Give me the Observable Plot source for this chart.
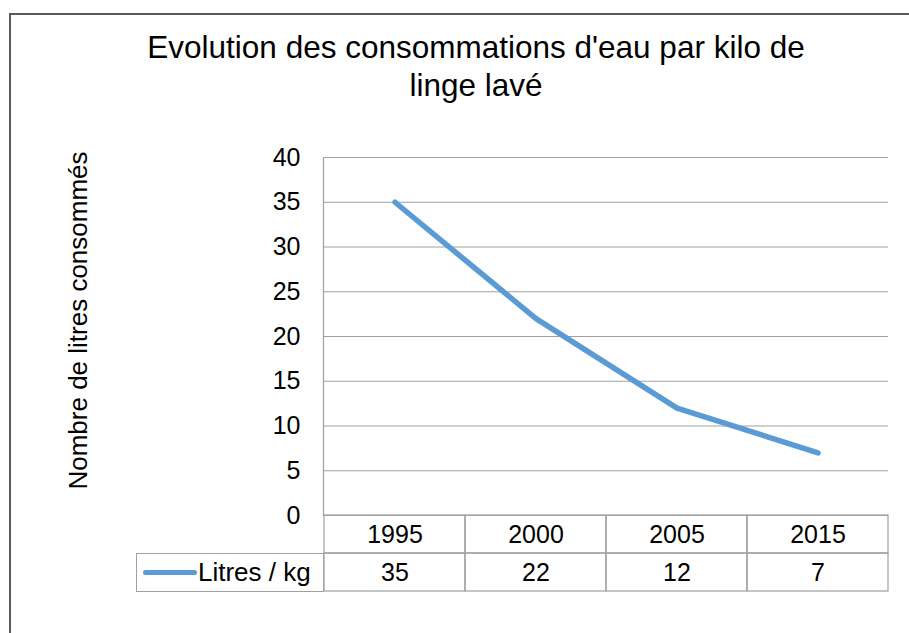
<!DOCTYPE html>
<html>
<head>
<meta charset="utf-8">
<script src="https://cdn.jsdelivr.net/npm/d3@7"></script>
<script src="https://cdn.jsdelivr.net/npm/@observablehq/plot@0.6"></script>
<style>
  html, body { margin: 0; padding: 0; background: #fff; }
  #wrap { position: relative; width: 909px; height: 633px; overflow: hidden; background: #fff;
          font-family: "Liberation Sans", Arial, sans-serif; }
  #border { position: absolute; left: 9px; top: 13px; width: 1000px; height: 1000px;
            border: 2px solid #5a5a5a; box-sizing: border-box; }
  #title { position: absolute; left: 0; top: 28px; width: 952px; text-align: center;
           font-size: 31.5px; line-height: 38px; color: #000; }
  #chart { position: absolute; left: 0; top: 0; }
  #legend { position: absolute; left: 136px; top: 553px; width: 188px; height: 39px;
            border: 1px solid #a0a0a0; box-sizing: border-box; background: #fff;
            display: flex; align-items: center; font-size: 26px; color: #000; }
  #legend .key { display: inline-block; width: 54px; height: 5px; border-radius: 3px;
                 background: #5B9BD5; margin-left: 6px; margin-right: 1px; }
</style>
</head>
<body>
<div id="wrap">
  <div id="border"></div>
  <div id="chart"></div>
  <div id="title">Evolution des consommations d'eau par kilo de<br>linge lavé</div>
  <div id="legend"><span class="key"></span><span id="seriesName"></span></div>
</div>
<script>
const years = ["1995", "2000", "2005", "2015"];
const litres = [35, 22, 12, 7];
const yTicks = [0, 5, 10, 15, 20, 25, 30, 35, 40];
const seriesName = "Litres / kg";
const yLabel = "Nombre de litres consommés";

const data = years.map((y, i) => ({year: y, value: litres[i]}));
const grey = "#a0a0a0";

document.getElementById("seriesName").textContent = seriesName;

const plot = Plot.plot({
  width: 909,
  height: 633,
  marginLeft: 323,
  marginRight: 21,
  marginTop: 157,
  marginBottom: 118,
  style: {fontFamily: "'Liberation Sans', Arial, sans-serif", fontSize: "25px", color: "#000", background: "transparent", overflow: "visible"},
  x: {type: "band", domain: years, padding: 0, axis: null},
  y: {domain: [0, 40], axis: null},
  marks: [
    Plot.gridY(yTicks, {stroke: grey, strokeOpacity: 1, strokeWidth: 1.2}),
    Plot.frame({anchor: "left", stroke: grey, strokeWidth: 1.2}),
    Plot.axisY(yTicks, {tickSize: 0, tickPadding: 23, label: null, fontSize: 25}),
    Plot.text([yLabel], {frameAnchor: "left", textAnchor: "middle", lineAnchor: "middle", rotate: -90, dx: -245, dy: -16, fontSize: 26}),
    // data table: category row and value row
    Plot.barY(years, {x: d => d, y1: 0, y2: 0, insetBottom: -38, fill: "none", stroke: grey, strokeWidth: 1.2}),
    Plot.barY(years, {x: d => d, y1: 0, y2: 0, insetTop: 38, insetBottom: -76, fill: "none", stroke: grey, strokeWidth: 1.2}),
    Plot.text(years, {x: d => d, frameAnchor: "bottom", lineAnchor: "middle", dy: 19, fontSize: 25}),
    Plot.text(data, {x: "year", text: d => String(d.value), frameAnchor: "bottom", lineAnchor: "middle", dy: 57, fontSize: 25}),
    Plot.line(data, {x: "year", y: "value", stroke: "#5B9BD5", strokeWidth: 5.5, strokeLinecap: "round", strokeLinejoin: "round"})
  ]
});
document.getElementById("chart").appendChild(plot);
</script>
</body>
</html>
